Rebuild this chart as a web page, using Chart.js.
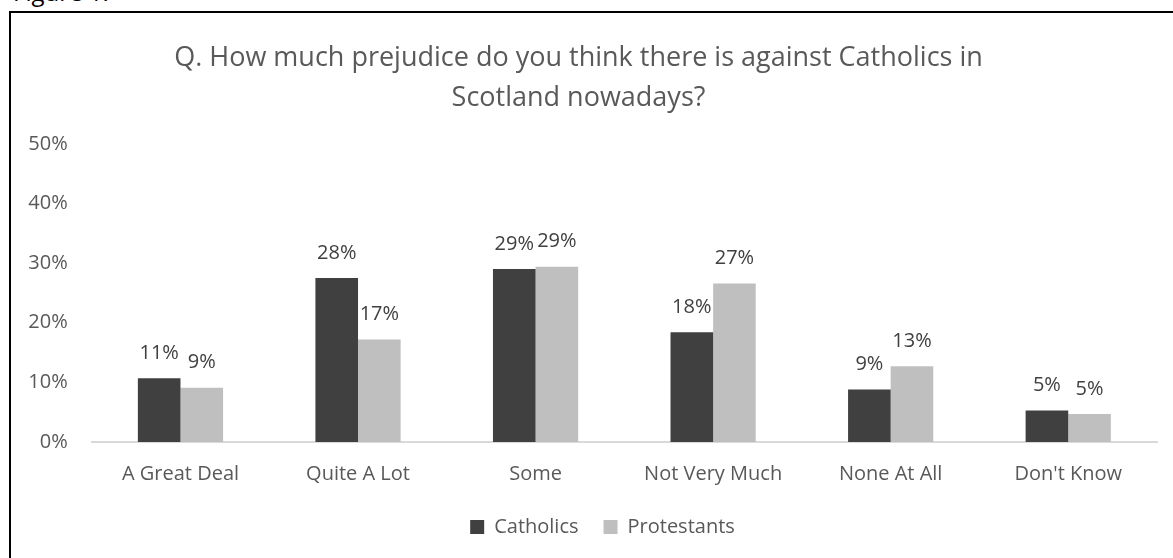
<!DOCTYPE html>
<html>
<head>
<meta charset="utf-8">
<script src="https://cdn.jsdelivr.net/npm/chart.js@4.4.1/dist/chart.umd.min.js"></script>
<style>
  html, body { margin: 0; padding: 0; background: #fff; overflow: hidden; }
  #page { position: relative; width: 1173px; height: 558px; }
  #caption {
    position: absolute; left: 13px; top: -21px;
    font-family: "Open Sans", Lato, sans-serif; font-size: 24px; line-height: 26px; color: #000;
  }
  #frame {
    position: absolute; left: 9px; top: 11px; width: 1170px; height: 560px;
    border-top: 2px solid #000; border-left: 2px solid #000;
  }
  #chart { position: absolute; left: 0; top: 0; }
</style>
</head>
<body>
<div id="page">
  <div id="caption">Figure 1.</div>
  <div id="frame"></div>
  <canvas id="chart" width="1173" height="558"></canvas>
</div>
<script>
// Survey answers, share of respondents (%)
const categories = ['A Great Deal', 'Quite A Lot', 'Some', 'Not Very Much', 'None At All', "Don't Know"];
const catholics = [10.7, 27.5, 29.0, 18.4, 8.8, 5.3];
const protestants = [9.1, 17.2, 29.4, 26.6, 12.7, 4.7];
const seriesNames = ['Catholics', 'Protestants'];
const titleLines = ['Q. How much prejudice do you think there is against Catholics in', 'Scotland nowadays?'];
const yTicks = [0, 10, 20, 30, 40, 50];

const FONT = '"Open Sans", Lato, sans-serif';
const pct = v => Math.round(v) + '%';

// Value labels above every bar
const barLabels = {
  id: 'barLabels',
  afterDatasetsDraw(chart) {
    const ctx = chart.ctx;
    ctx.save();
    ctx.font = '20px ' + FONT;
    ctx.fillStyle = '#404040';
    ctx.textAlign = 'center';
    ctx.textBaseline = 'middle';
    chart.data.datasets.forEach((ds, di) => {
      chart.getDatasetMeta(di).data.forEach((bar, i) => {
        ctx.fillText(pct(ds.data[i]), bar.x, bar.y - 25);
      });
    });
    ctx.restore();
  }
};

// Legend sits a little right of the canvas centre
const legendShift = {
  id: 'legendShift',
  afterLayout(chart) {
    const lg = chart.legend;
    if (lg) { lg.left += 24; lg.right += 24; }
  }
};

new Chart(document.getElementById('chart'), {
  type: 'bar',
  data: {
    labels: categories,
    datasets: [
      { label: seriesNames[0], data: catholics, backgroundColor: '#404040' },
      { label: seriesNames[1], data: protestants, backgroundColor: '#BFBFBF' }
    ]
  },
  options: {
    responsive: false,
    animation: false,
    devicePixelRatio: 1,
    layout: { padding: { left: 0, right: 16, top: 0, bottom: 11 } },
    datasets: { bar: { categoryPercentage: 0.48, barPercentage: 1.0 } },
    scales: {
      x: {
        grid: { display: false, drawTicks: false },
        border: { display: true, color: '#D9D9D9', width: 2 },
        ticks: { color: '#595959', font: { family: FONT, size: 20 }, padding: 20 },
        afterFit(scale) { scale.height = 50; }
      },
      y: {
        min: 0, max: 50,
        afterBuildTicks(scale) { scale.ticks = yTicks.map(v => ({ value: v })); },
        grid: { display: false, drawTicks: false },
        border: { display: false },
        ticks: { color: '#595959', font: { family: FONT, size: 20 }, padding: 24, callback: v => v + '%' },
        afterFit(scale) { scale.width = 91.7; }
      }
    },
    plugins: {
      title: {
        display: true,
        text: titleLines,
        color: '#595959',
        font: { family: FONT, size: 27, weight: 'normal', lineHeight: 1.48 },
        padding: { top: 38, bottom: 26 }
      },
      legend: {
        position: 'bottom',
        labels: {
          color: '#595959',
          font: { family: FONT, size: 20 },
          boxWidth: 14, boxHeight: 14, padding: 25
        }
      },
      tooltip: { enabled: false }
    }
  },
  plugins: [barLabels, legendShift]
});
</script>
</body>
</html>
